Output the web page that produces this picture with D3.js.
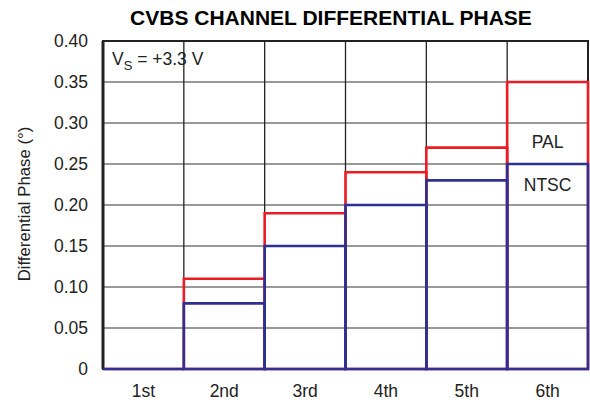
<!DOCTYPE html>
<html>
<head>
<meta charset="utf-8">
<script src="https://cdn.jsdelivr.net/npm/d3@7"></script>
<style>
  body { margin: 0; background: #fff; }
  text { font-family: "Liberation Sans", Arial, sans-serif; fill: #222; }
</style>
</head>
<body>
<div id="chart"></div>
<script>
// values
var harmonics = ["1st", "2nd", "3rd", "4th", "5th", "6th"];
var palPhase = [0, 0.11, 0.19, 0.24, 0.27, 0.35];
var ntscPhase = [0, 0.08, 0.15, 0.20, 0.23, 0.25];
var yTicks = [0, 0.05, 0.10, 0.15, 0.20, 0.25, 0.30, 0.35, 0.40];

var W = 590, H = 402;
var margin = {top: 41, right: 2, bottom: 33, left: 103};
var width = W - margin.left - margin.right,
    height = H - margin.top - margin.bottom;

var svg = d3.select("#chart").append("svg")
  .attr("width", W).attr("height", H);

var g = svg.append("g")
  .attr("transform", "translate(" + margin.left + "," + margin.top + ")");

var x = d3.scaleBand().domain(harmonics).range([0, width]).padding(0);
var y = d3.scaleLinear().domain([0, 0.40]).range([height, 0]);

// horizontal grid (grey)
g.selectAll(".hgrid")
  .data(yTicks.slice(1, -1))
  .enter().append("line")
  .attr("x1", 0).attr("x2", width)
  .attr("y1", function(d){ return y(d); })
  .attr("y2", function(d){ return y(d); })
  .attr("stroke", "#777").attr("stroke-width", 1.5);

// vertical grid (black)
g.selectAll(".vgrid")
  .data(harmonics.slice(1))
  .enter().append("line")
  .attr("x1", function(d){ return x(d); })
  .attr("x2", function(d){ return x(d); })
  .attr("y1", 0).attr("y2", height)
  .attr("stroke", "#222").attr("stroke-width", 1.3);

// frame
g.append("rect")
  .attr("width", width).attr("height", height)
  .attr("fill", "none").attr("stroke", "#222").attr("stroke-width", 2);
g.append("line")
  .attr("x1", 0).attr("x2", 0).attr("y1", 0).attr("y2", height)
  .attr("stroke", "#222").attr("stroke-width", 3);

// bars as outlines (path so that zero-height bars still show): PAL first, NTSC on top
function bars(data, color) {
  g.selectAll(null)
    .data(data)
    .enter().append("path")
    .attr("d", function(d, i){
      var x0 = x(harmonics[i]), x1 = x0 + x.bandwidth();
      return "M" + x0 + "," + y(0) + "V" + y(d) + "H" + x1 + "V" + y(0) + "Z";
    })
    .attr("fill", "none")
    .attr("stroke", color)
    .attr("stroke-width", 2.6);
}
bars(palPhase, "#ec1c24");
bars(ntscPhase, "#2e3192");

// y axis labels
g.selectAll(".ylab")
  .data(yTicks)
  .enter().append("text")
  .attr("x", -15)
  .attr("y", function(d){ return y(d); })
  .attr("dy", "0.36em")
  .attr("text-anchor", "end")
  .style("font-size", "17.5px")
  .text(function(d){ return d === 0 ? "0" : d3.format(".2f")(d); });

// x axis labels
g.selectAll(".xlab")
  .data(harmonics)
  .enter().append("text")
  .attr("x", function(d){ return x(d) + x.bandwidth() / 2; })
  .attr("y", height + 28)
  .attr("text-anchor", "middle")
  .style("font-size", "17.5px")
  .text(function(d){ return d; });

// title
svg.append("text")
  .attr("x", 331).attr("y", 25)
  .attr("text-anchor", "middle")
  .style("font-size", "21px").style("font-weight", "bold")
  .style("fill", "#000")
  .text("CVBS CHANNEL DIFFERENTIAL PHASE");

// y title
svg.append("text")
  .attr("transform", "translate(30," + (margin.top + height / 2 - 1) + ") rotate(-90)")
  .attr("text-anchor", "middle")
  .style("font-size", "16.8px")
  .text("Differential Phase (°)");

// supply annotation
var vs = g.append("text").attr("x", 9).attr("y", 24).style("font-size", "17.5px");
vs.append("tspan").text("V");
vs.append("tspan").attr("dy", 5).style("font-size", "13px").text("S");
vs.append("tspan").attr("dy", -5).text(" = +3.3 V");

// series labels
var last = harmonics[harmonics.length - 1];
g.append("text")
  .attr("x", x(last) + x.bandwidth() / 2).attr("y", 148 - margin.top)
  .attr("text-anchor", "middle").style("font-size", "17.5px").text("PAL");
g.append("text")
  .attr("x", x(last) + x.bandwidth() / 2).attr("y", 191 - margin.top)
  .attr("text-anchor", "middle").style("font-size", "17.5px").text("NTSC");
</script>
</body>
</html>
